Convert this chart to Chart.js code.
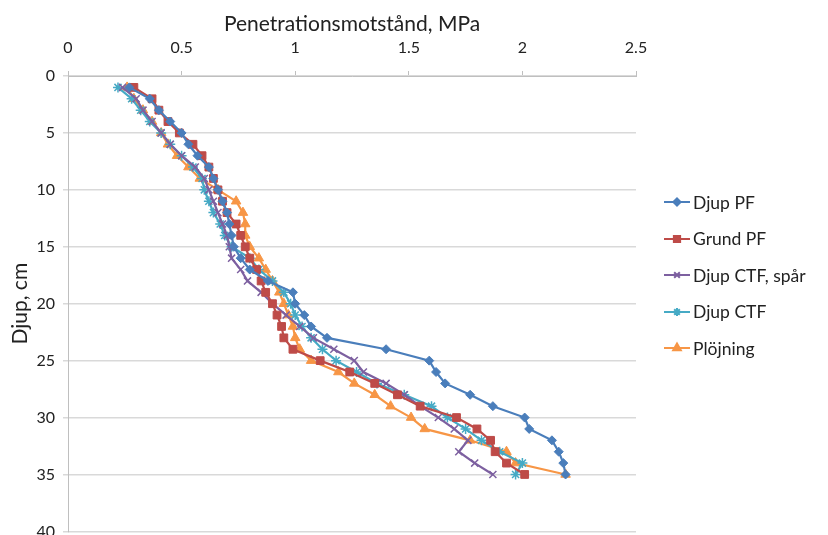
<!DOCTYPE html>
<html>
<head>
<meta charset="utf-8">
<script src="https://cdn.jsdelivr.net/npm/chart.js@4.4.1/dist/chart.umd.min.js"></script>
<style>
  html, body { margin: 0; padding: 0; background: #fff; overflow: hidden; }
  #wrap { position: relative; width: 828px; height: 535px; overflow: hidden; }
  #legend { position: absolute; left: 664px; top: 184px; font-family: Lato, "Open Sans", sans-serif; font-size: 17.5px; color: #222; }
  .item { height: 36.5px; display: flex; align-items: center; }
  .item canvas { margin-right: 3px; }
</style>
</head>
<body>
<div id="wrap">
  <canvas id="chart" width="828" height="549"></canvas>
  <div id="legend"></div>
</div>
<script>
// depth in cm (y axis, reversed)
const depths = [1,2,3,4,5,6,7,8,9,10,11,12,13,14,15,16,17,18,19,20,21,22,23,24,25,26,27,28,29,30,31,32,33,34,35];

// penetration resistance, MPa
const djupPF = [0.27,0.36,0.40,0.45,0.50,0.53,0.57,0.62,0.64,0.66,0.68,0.70,0.71,0.72,0.73,0.76,0.80,0.88,0.99,1.00,1.04,1.07,1.14,1.40,1.59,1.62,1.66,1.77,1.87,2.01,2.03,2.13,2.16,2.18,2.19];
const grundPF = [0.29,0.37,0.40,0.44,0.49,0.55,0.59,0.62,0.64,0.66,0.68,0.70,0.74,0.76,0.78,0.80,0.83,0.85,0.87,0.90,0.92,0.94,0.95,0.99,1.11,1.24,1.35,1.45,1.55,1.71,1.80,1.86,1.88,1.93,2.01];
const djupCTFspar = [0.24,0.30,0.33,0.37,0.41,0.45,0.50,0.56,0.60,0.62,0.64,0.66,0.68,0.70,0.71,0.72,0.76,0.79,0.85,0.90,0.96,1.02,1.08,1.17,1.26,1.30,1.40,1.48,1.55,1.63,1.70,1.76,1.72,1.79,1.87];
const djupCTF = [0.22,0.28,0.32,0.36,0.41,0.45,0.50,0.55,0.59,0.60,0.62,0.64,0.67,0.69,0.72,0.80,0.84,0.90,0.95,0.98,1.00,1.03,1.07,1.12,1.18,1.27,1.36,1.48,1.60,1.67,1.75,1.82,1.90,2.00,1.97];
const plojning = [0.26,0.29,0.33,0.37,0.41,0.44,0.48,0.53,0.58,0.66,0.74,0.77,0.78,0.78,0.80,0.84,0.87,0.90,0.93,0.95,0.97,0.99,1.00,1.02,1.07,1.19,1.26,1.35,1.42,1.51,1.57,1.77,1.93,1.97,2.19];

const xTicks = [0, 0.5, 1, 1.5, 2, 2.5];
const yTicks = [0, 5, 10, 15, 20, 25, 30, 35, 40];

const series = [
  { label: 'Djup PF', values: djupPF, color: '#4A7EBB', style: 'rectRot', r: 4.5 },
  { label: 'Grund PF', values: grundPF, color: '#BE4B48', style: 'rect', r: 5.5 },
  { label: 'Djup CTF, spår', values: djupCTFspar, color: '#7D60A0', style: 'crossRot', r: 5 },
  { label: 'Djup CTF', values: djupCTF, color: '#46AAC5', style: 'star', r: 5 },
  { label: 'Plöjning', values: plojning, color: '#F79646', style: 'triangle', r: 5.5 }
];

const font = 'Lato, "Open Sans", sans-serif';

const datasets = series.map(s => ({
  label: s.label,
  data: s.values.map((v, i) => ({ x: v, y: depths[i] })),
  borderColor: s.color,
  backgroundColor: s.color,
  pointBorderColor: s.color,
  pointBackgroundColor: s.color,
  pointStyle: s.style,
  pointRadius: s.r,
  pointBorderWidth: s.style === 'crossRot' || s.style === 'star' ? 1.5 : 1,
  borderWidth: 2.2,
  tension: 0,
  showLine: true
}));

new Chart(document.getElementById('chart'), {
  type: 'scatter',
  data: { datasets },
  options: {
    responsive: false,
    animation: false,
    layout: { padding: { left: 0, right: 192, top: 0, bottom: 0 } },
    plugins: { legend: { display: false }, tooltip: { enabled: false } },
    scales: {
      x: {
        type: 'linear',
        position: 'top',
        min: 0, max: 2.5,
        afterBuildTicks: axis => { axis.ticks = xTicks.map(v => ({ value: v })); },
        ticks: { font: { family: font, size: 16 }, color: '#222', padding: 14,
                 callback: v => String(v) },
        grid: { drawOnChartArea: false, drawTicks: true, tickLength: 5, color: '#BFBFBF' },
        border: { display: true, color: '#BFBFBF' },
        title: { display: true, text: 'Penetrationsmotstånd, MPa', font: { family: font, size: 21 }, color: '#222', padding: { top: 12, bottom: 0 } },
        afterFit: axis => { axis.height = 76; }
      },
      y: {
        type: 'linear',
        reverse: true,
        min: 0, max: 40,
        afterBuildTicks: axis => { axis.ticks = yTicks.map(v => ({ value: v })); },
        ticks: { font: { family: font, size: 16 }, color: '#222', padding: 8 },
        grid: { color: '#D9D9D9', lineWidth: 1.5, tickLength: 5, drawTicks: true },
        border: { display: true, color: '#BFBFBF' },
        title: { display: true, text: 'Djup, cm', font: { family: font, size: 21 }, color: '#222', padding: { top: 8, bottom: 0 } },
        afterFit: axis => { axis.width = 68; }
      }
    }
  }
});

// legend as html
const legend = document.getElementById('legend');
series.forEach(s => {
  const row = document.createElement('div');
  row.className = 'item';
  const c = document.createElement('canvas');
  c.width = 26; c.height = 14;
  const g = c.getContext('2d');
  g.strokeStyle = s.color; g.fillStyle = s.color; g.lineWidth = 2;
  g.beginPath(); g.moveTo(0, 7); g.lineTo(26, 7); g.stroke();
  Chart.helpers.drawPoint(g, { pointStyle: s.style, radius: s.r * 0.8, borderWidth: 1.5 }, 13, 7);
  row.appendChild(c);
  const t = document.createElement('span');
  t.textContent = s.label;
  row.appendChild(t);
  legend.appendChild(row);
});
</script>
</body>
</html>
